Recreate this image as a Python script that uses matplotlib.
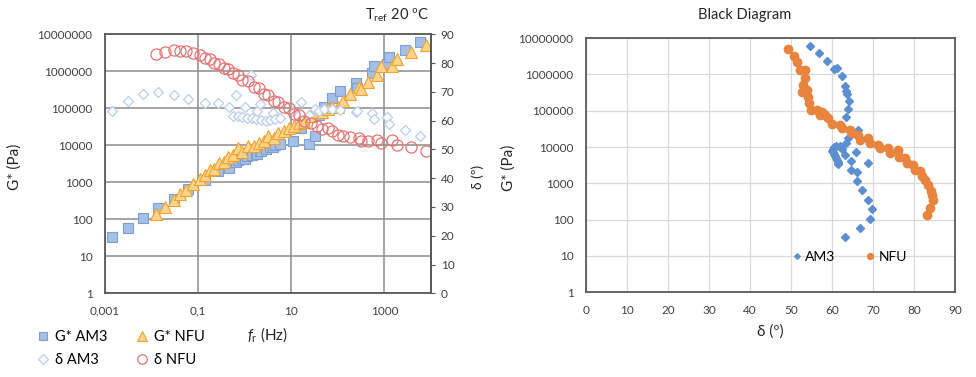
import matplotlib
matplotlib.use('Agg')
import matplotlib.pyplot as plt
from matplotlib.ticker import FixedLocator, NullLocator

plt.rcParams['font.family'] = ['Lato', 'DejaVu Sans']
plt.rcParams['mathtext.fontset'] = 'custom'
plt.rcParams['mathtext.rm'] = 'Lato'
plt.rcParams['mathtext.it'] = 'Lato:italic'

# AM3 master curve: reduced frequency (Hz), G* (Pa), phase angle (deg)
am3_freq = [0.0014, 0.0031, 0.0065, 0.014, 0.031, 0.062, 0.14, 0.27, 0.45,
            0.56, 0.66, 0.71, 0.89, 1.0, 1.12, 1.35, 1.41, 1.78, 1.8, 2.1,
            2.24, 2.82, 3.55, 4.0, 4.47, 5.6, 11, 16, 24, 32, 40, 50, 75,
            112, 240, 257, 550, 590, 1150, 1230, 2700, 5900]
am3_g = [34, 59, 107, 200, 355, 650, 1150, 2000, 2400,
         3500, 3600, 3900, 4400, 4200, 5000, 7200, 5600, 6300, 5900, 7200,
         7100, 8000, 9000, 9100, 10000, 11000, 13000, 30000, 10700, 18000,
         66000, 110000, 190000, 295000, 490000, 350000, 910000, 1380000,
         1550000, 2400000, 3800000, 6200000]
am3_delta = [63.3, 66.8, 69.3, 69.8, 68.9, 67.4, 66.2, 66.2, 64.6,
             61.5, 68.9, 61.5, 61.3, 64.6, 61.0, 76.0, 60.8, 60.5, 63.2, 65.8,
             60.3, 60.0, 60.2, 62.5, 60.5, 61.0, 63.4, 66.4, 62.0, 63.9,
             63.4, 63.9, 64.1, 63.7, 63.1, 63.4, 62.5, 60.4, 61.2, 58.8,
             56.8, 54.7]

# NFU master curve
nfu_freq = [0.0126, 0.0195, 0.031, 0.041, 0.056, 0.078, 0.11, 0.138, 0.178,
            0.224, 0.28, 0.355, 0.447, 0.56, 0.71, 0.89, 1.2, 1.6, 2.0, 2.6,
            3.2, 4.2, 5.2, 6.9, 8.9, 11.2, 14.8, 19, 26, 35, 46, 60, 76, 100,
            132, 186, 282, 316, 447, 692, 832, 1480, 1820, 3630, 7940]
nfu_g = [135, 209, 339, 479, 631, 912, 1260, 1550, 2140,
         2340, 3240, 3630, 4900, 5500, 8300, 6800, 9300, 9300, 11500, 12900,
         17800, 15800, 21900, 24000, 29500, 33000, 40700, 42700, 63000,
         77600, 77600, 95500, 107000, 107000, 162000, 245000, 380000,
         339000, 513000, 813000, 1350000, 1350000, 2190000, 3310000, 5130000]
nfu_delta = [83.3, 83.9, 84.6, 84.3, 84.1, 83.5, 82.7, 81.9, 81.5,
             80.2, 79.8, 78.2, 77.8, 76.4, 76.0, 74.1, 73.7, 71.7, 71.3, 69.3,
             68.9, 66.8, 66.4, 64.8, 64.4, 62.4, 61.9, 59.9, 59.1, 58.3, 57.1,
             57.5, 56.3, 55.0, 54.5, 54.2, 53.8, 52.8, 53.0, 53.4, 52.2, 53.4,
             51.5, 50.7, 49.3]

freq_ticks = [0.001, 0.1, 10, 1000]
freq_labels = ['0,001', '0,1', '10', '1000']
g_ticks = [1, 10, 100, 1000, 10000, 100000, 1000000, 10000000]
g_labels = ['1', '10', '100', '1000', '10000', '100000', '1000000', '10000000']
delta_ticks = list(range(0, 100, 10))

text_col = '#404040'
spine_col = '#595959'

fig = plt.figure(figsize=(9.76, 3.77), dpi=100)

# ---- left: master curves ----
ax = fig.add_axes([0.1076, 0.222, 0.334, 0.687])
ax.set_xscale('log')
ax.set_yscale('log')
ax.set_xlim(1e-3, 1e4)
ax.set_ylim(1, 1e7)
ax.xaxis.set_major_locator(FixedLocator(freq_ticks))
ax.xaxis.set_minor_locator(NullLocator())
ax.set_xticklabels(freq_labels)
ax.yaxis.set_major_locator(FixedLocator(g_ticks))
ax.yaxis.set_minor_locator(NullLocator())
ax.set_yticklabels(g_labels)
ax.grid(True, color='#8c8c8c', lw=1.1)
ax.set_axisbelow(True)
ax.tick_params(length=0, labelsize=8.5, colors=text_col, pad=9)
for s in ax.spines.values():
    s.set_color(spine_col)
    s.set_linewidth(1.3)

h1, = ax.plot(am3_freq, am3_g, ls='none', marker='s', ms=7.5, mfc='#a4bfe8',
              mec='#7f9fd0', mew=0.8, label='G* AM3')
h2, = ax.plot(nfu_freq, nfu_g, ls='none', marker='^', ms=8, mfc='#ffd488',
              mec='#eea236', mew=0.8, label='G* NFU')
ax.set_ylabel('G* (Pa)', fontsize=11, color='#262626')
ax.yaxis.set_label_coords(-0.255, 0.49)
ax.set_xlabel('$f_{\\rm r}$ (Hz)', fontsize=11, color='#262626')
ax.xaxis.set_label_coords(0.5, -0.125)

ax2 = ax.twinx()
ax2.set_ylim(0, 90)
ax2.set_yticks(delta_ticks)
ax2.tick_params(length=3, labelsize=8.5, pad=4)
ax2.tick_params(axis='y', colors=spine_col, labelcolor=text_col)
for s in ax2.spines.values():
    s.set_visible(False)
ax2.spines['right'].set_visible(True)
ax2.spines['right'].set_color(spine_col)
ax2.spines['right'].set_linewidth(1.3)
h3, = ax2.plot(am3_freq, am3_delta, ls='none', marker='D', ms=5.5, mfc='white',
               mec='#b9cdec', mew=0.9, label='δ AM3')
h4, = ax2.plot(nfu_freq, nfu_delta, ls='none', marker='o', ms=8, mfc='none',
               mec='#e57373', mew=0.9, label='δ NFU')
ax2.set_ylabel('δ (º)', fontsize=10, color='#262626', rotation=90)
ax2.yaxis.set_label_coords(1.125, 0.45)

fig.text(397 / 976, 1 - 15 / 377, 'T$_{\\rm ref}$ 20 ºC', ha='center',
         va='center', fontsize=10.5, color='#262626')

fig.legend(handles=[h1, h3, h2, h4], ncol=2, loc='upper left',
           bbox_to_anchor=(30 / 976, 1 - 323 / 377), frameon=False,
           fontsize=10.5, handlelength=0.8, handletextpad=0.4,
           columnspacing=2.0, labelspacing=0.6, borderpad=0, markerscale=0.85)

# ---- right: Black diagram ----
bx = fig.add_axes([0.6004, 0.2247, 0.378, 0.674])
bx.set_yscale('log')
bx.set_xlim(0, 90)
bx.set_ylim(1, 1e7)
bx.set_xticks(delta_ticks)
bx.yaxis.set_major_locator(FixedLocator(g_ticks))
bx.yaxis.set_minor_locator(NullLocator())
bx.set_yticklabels(g_labels)
bx.grid(True, color='#d9d9d9', lw=0.9)
bx.set_axisbelow(True)
bx.tick_params(length=0, labelsize=8.5, colors=text_col, pad=9)
for s in bx.spines.values():
    s.set_color(spine_col)
    s.set_linewidth(1.3)

b1, = bx.plot(am3_delta, am3_g, ls='none', marker='D', ms=4, mfc='#5b8fd0',
              mec='#5b8fd0', label='AM3')
b2, = bx.plot(nfu_delta, nfu_g, ls='none', marker='o', ms=6, mfc='#e8843e',
              mec='#e8843e', label='NFU')
bx.set_ylabel('G* (Pa)', fontsize=11, color='#262626')
bx.yaxis.set_label_coords(-0.19, 0.49)
bx.set_xlabel('δ (º)', fontsize=11, color='#262626')
bx.xaxis.set_label_coords(0.5, -0.125)
bx.legend(handles=[b1, b2], ncol=2, loc='center', bbox_to_anchor=(0.715, 0.139),
          frameon=False, fontsize=10, handlelength=0.6, handletextpad=0.3,
          columnspacing=2.2, borderpad=0, markerscale=0.7)

fig.text(745 / 976, 1 - 15 / 377, 'Black Diagram', ha='center', va='center',
         fontsize=10.5, color='#262626')

fig.savefig('out.png', dpi=100)
